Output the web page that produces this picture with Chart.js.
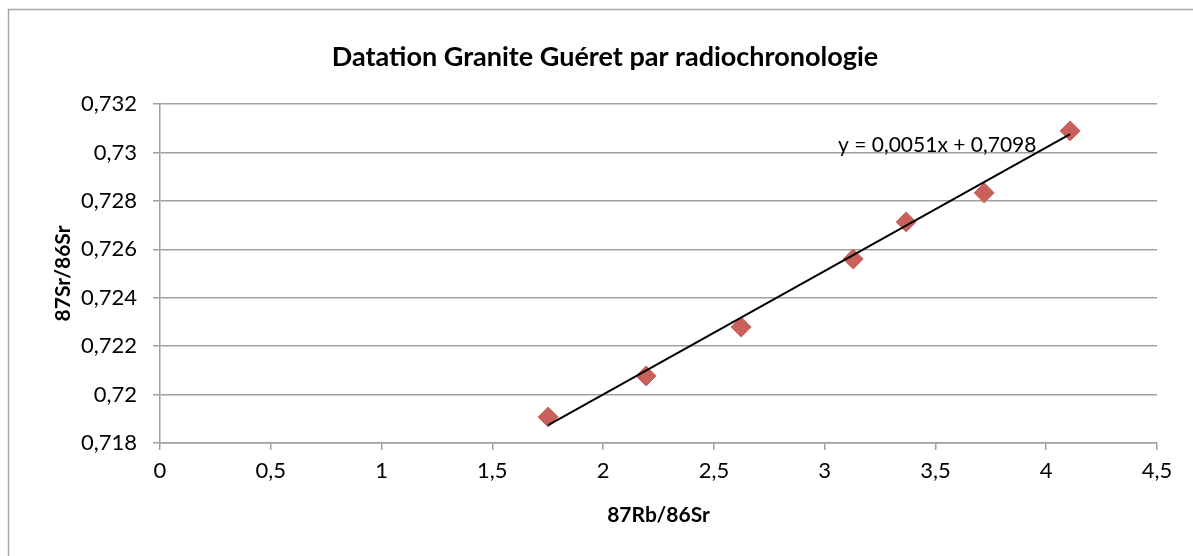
<!DOCTYPE html>
<html>
<head>
<meta charset="utf-8">
<script src="https://cdn.jsdelivr.net/npm/chart.js@4/dist/chart.umd.min.js"></script>
<style>
html,body{margin:0;padding:0;background:#fff;}
#wrap{position:absolute;left:0;top:0;width:1193px;height:556px;}
</style>
</head>
<body>
<div id="wrap"><canvas id="c" width="1193" height="556"></canvas></div>
<script>
const titleText = 'Datation Granite Guéret par radiochronologie';
const xTitle = '87Rb/86Sr';
const yTitle = '87Sr/86Sr';
const rbSr = [1.752, 2.194, 2.623, 3.129, 3.368, 3.720, 4.108];
const srSr = [0.71907, 0.72077, 0.72279, 0.72560, 0.72713, 0.72833, 0.73089];
const trendX = [1.752, 4.108];
const trendY = [0.71874, 0.73076];
const equation = 'y = 0,0051x + 0,7098';
const equationPos = [3.06, 0.73031];

const FONT = "Lato, 'Open Sans', sans-serif";
const fmt = v => String(+v.toFixed(4)).replace('.', ',');

const borderPlugin = {
  id: 'outerBorder',
  beforeDraw(chart) {
    const ctx = chart.ctx;
    ctx.save();
    ctx.fillStyle = '#fff';
    ctx.fillRect(0, 0, chart.width, chart.height);
    ctx.strokeStyle = '#a6a6a6';
    ctx.lineWidth = 1.5;
    ctx.beginPath();
    ctx.moveTo(8.5, chart.height + 5);
    ctx.lineTo(8.5, 9.5);
    ctx.lineTo(chart.width + 5, 9.5);
    ctx.stroke();
    ctx.restore();
  }
};
const eqPlugin = {
  id: 'eq',
  afterDatasetsDraw(chart) {
    const ctx = chart.ctx;
    const x = chart.scales.x.getPixelForValue(equationPos[0]);
    const y = chart.scales.y.getPixelForValue(equationPos[1]);
    ctx.save();
    ctx.font = "21px " + FONT;
    ctx.fillStyle = '#000';
    ctx.textAlign = 'left';
    ctx.textBaseline = 'middle';
    ctx.fillText(equation, x, y);
    ctx.restore();
  }
};

new Chart(document.getElementById('c'), {
  type: 'scatter',
  data: {
    datasets: [
      {
        type: 'line',
        data: trendX.map((x, i) => ({x, y: trendY[i]})),
        borderColor: '#000',
        borderWidth: 2,
        pointRadius: 0,
        fill: false,
        order: 1
      },
      {
        data: rbSr.map((x, i) => ({x, y: srSr[i]})),
        pointStyle: 'rectRot',
        pointRadius: 10,
        pointHoverRadius: 10,
        backgroundColor: '#C9605A',
        borderColor: '#C9605A',
        borderWidth: 1,
        order: 2
      }
    ]
  },
  options: {
    responsive: false,
    animation: false,
    devicePixelRatio: 1,
    layout: {padding: {left: 53, right: 36, top: 0, bottom: 0}},
    plugins: {
      legend: {display: false},
      tooltip: {enabled: false},
      title: {
        display: true,
        text: titleText,
        color: '#000',
        font: {family: FONT, size: 27, weight: 'bold', lineHeight: 1.2},
        padding: {top: 41, bottom: 30.6}
      }
    },
    scales: {
      x: {
        type: 'linear',
        min: 0, max: 4.5,
        afterFit(s) { s.height = 113; },
        ticks: {stepSize: 0.5, color: '#000', font: {family: FONT, size: 22}, padding: 8, callback: v => fmt(v), maxRotation: 0},
        grid: {drawOnChartArea: false, drawTicks: true, tickLength: 7, color: '#a0a0a0', lineWidth: 1.5},
        border: {color: '#a0a0a0', width: 1.5},
        title: {display: true, text: xTitle, color: '#000', font: {family: FONT, size: 21, weight: 'bold', lineHeight: 1.2}, padding: {top: 0, bottom: 28}}
      },
      y: {
        type: 'linear',
        min: 0.718, max: 0.732,
        afterFit(s) { s.width = 107; },
        ticks: {stepSize: 0.002, color: '#000', font: {family: FONT, size: 22}, padding: 16, callback: v => fmt(v)},
        grid: {drawOnChartArea: true, drawTicks: true, tickLength: 7, color: '#a0a0a0', lineWidth: 1.5},
        border: {color: '#a0a0a0', width: 1.5},
        title: {display: true, text: yTitle, color: '#000', font: {family: FONT, size: 21, weight: 'bold', lineHeight: 1}, padding: {top: 0, bottom: 0}}
      }
    }
  },
  plugins: [borderPlugin, eqPlugin]
});
</script>
</body>
</html>
